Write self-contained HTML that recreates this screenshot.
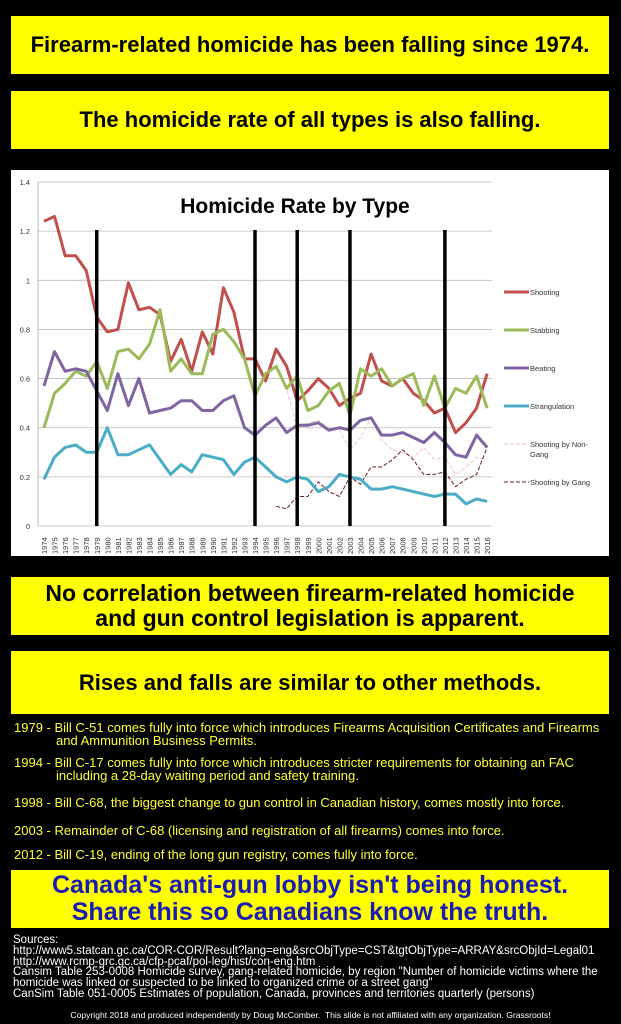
<!DOCTYPE html>
<html><head><meta charset="utf-8"><style>
body{margin:0;width:621px;height:1024px;background:#000;position:relative;overflow:hidden;font-family:"Liberation Sans",sans-serif}
.y{position:absolute;left:11px;width:598px;background:#ffff00;color:#000;font-weight:bold;text-align:center;display:flex;align-items:center;justify-content:center;box-sizing:border-box;white-space:nowrap}
.t{position:absolute;color:#ffff33;font-size:13px;white-space:nowrap;transform-origin:0 0;transform:scaleX(1.0)}
.s{position:absolute;color:#fff;font-size:11.5px;white-space:nowrap;transform-origin:0 0;transform:scaleX(1.0);line-height:10.8px}
</style></head><body>
<div class="y" style="top:16px;height:58px;font-size:22px">Firearm-related homicide has been falling since 1974.</div>
<div class="y" style="top:91px;height:58px;font-size:22px">The homicide rate of all types is also falling.</div>
<svg id="ch" style="position:absolute;left:11px;top:170px" width="598" height="386"></svg>
<div class="y" style="top:577px;height:58px;font-size:23px;line-height:25px">No correlation between firearm-related homicide<br>and gun control legislation is apparent.</div>
<div class="y" style="top:651px;height:63px;font-size:22px">Rises and falls are similar to other methods.</div>
<div class="t" style="top:720px;left:14px">1979 - Bill C-51 comes fully into force which introduces Firearms Acquisition Certificates and Firearms</div>
<div class="t" style="top:733px;left:56px">and Ammunition Business Permits.</div>
<div class="t" style="top:755px;left:14px">1994 - Bill C-17 comes fully into force which introduces stricter requirements for obtaining an FAC</div>
<div class="t" style="top:768px;left:56px">including a 28-day waiting period and safety training.</div>
<div class="t" style="top:795px;left:14px">1998 - Bill C-68, the biggest change to gun control in Canadian history, comes mostly into force.</div>
<div class="t" style="top:823px;left:14px">2003 - Remainder of C-68 (licensing and registration of all firearms) comes into force.</div>
<div class="t" style="top:847px;left:14px">2012 - Bill C-19, ending of the long gun registry, comes fully into force.</div>
<div class="y" style="top:870px;height:58px;font-size:25px;color:#1a1ab4;line-height:27px">Canada's anti-gun lobby isn't being honest.<br>Share this so Canadians know the truth.</div>
<div class="s" style="top:935px;left:13px">Sources:<br>http://www5.statcan.gc.ca/COR-COR/Result?lang=eng&amp;srcObjType=CST&amp;tgtObjType=ARRAY&amp;srcObjId=Legal01<br>http://www.rcmp-grc.gc.ca/cfp-pcaf/pol-leg/hist/con-eng.htm<br>Cansim Table 253-0008 Homicide survey, gang-related homicide, by region "Number of homicide victims where the<br>homicide was linked or suspected to be linked to organized crime or a street gang"<br>CanSim Table 051-0005 Estimates of population, Canada, provinces and territories quarterly (persons)</div>
<div style="position:absolute;top:1010px;left:0;width:621px;text-align:center;color:#fff;font-size:8.6px">Copyright 2018 and produced independently by Doug McComber.&nbsp; This slide is not affiliated with any organization. Grassroots!</div>
<script>
var s='<rect x="0" y="0" width="598" height="386" fill="#fff"/>';
var ox=11,oy=170;
function X(i){return 44+i*10.55-ox}
function Y(v){return 526-v/0.2*49.14-oy}
for(var k=0;k<=7;k++){var yy=Y(k*0.2);s+='<line x1="'+(38-ox)+'" x2="'+(492-ox)+'" y1="'+yy+'" y2="'+yy+'" stroke="#bbb" stroke-width="0.8"/>';
s+='<text x="'+(30-ox)+'" y="'+(yy+3)+'" font-size="7.5" text-anchor="end" fill="#333">'+(k==0?'0':(k*0.2).toFixed(1).replace(/\.0$/,''))+'</text>';}
s+='<line x1="'+(38-ox)+'" x2="'+(38-ox)+'" y1="'+Y(1.4)+'" y2="'+Y(0)+'" stroke="#bbb"/>';
for(var i=0;i<43;i++){var x=X(i);s+='<text transform="translate('+(x+3)+','+(Y(0)+28)+') rotate(-90)" font-size="7.5" fill="#333">'+(1974+i)+'</text>';}
s+='<text x="'+(295-ox)+'" y="'+(213-oy)+'" font-size="21" font-weight="bold" text-anchor="middle" fill="#000">Homicide Rate by Type</text>';
var D={
sh:[1.24,1.26,1.10,1.10,1.04,0.85,0.79,0.80,0.99,0.88,0.89,0.86,0.67,0.76,0.63,0.79,0.70,0.97,0.87,0.68,0.68,0.59,0.72,0.65,0.51,0.55,0.60,0.56,0.49,0.52,0.54,0.70,0.59,0.57,0.60,0.54,0.51,0.46,0.48,0.38,0.42,0.48,0.62],
st:[0.40,0.54,0.58,0.63,0.61,0.67,0.56,0.71,0.72,0.68,0.74,0.88,0.63,0.68,0.62,0.62,0.78,0.80,0.75,0.68,0.53,0.62,0.65,0.56,0.61,0.47,0.49,0.55,0.58,0.45,0.64,0.61,0.64,0.57,0.60,0.62,0.49,0.61,0.48,0.56,0.54,0.61,0.48],
be:[0.57,0.71,0.63,0.64,0.63,0.55,0.47,0.62,0.49,0.60,0.46,0.47,0.48,0.51,0.51,0.47,0.47,0.51,0.53,0.40,0.37,0.41,0.44,0.38,0.41,0.41,0.42,0.39,0.40,0.39,0.43,0.44,0.37,0.37,0.38,0.36,0.34,0.38,0.34,0.29,0.28,0.37,0.32],
str:[0.19,0.28,0.32,0.33,0.30,0.30,0.40,0.29,0.29,0.31,0.33,0.27,0.21,0.25,0.22,0.29,0.28,0.27,0.21,0.26,0.28,0.24,0.20,0.18,0.20,0.19,0.14,0.16,0.21,0.20,0.19,0.15,0.15,0.16,0.15,0.14,0.13,0.12,0.13,0.13,0.09,0.11,0.10]};
var ng=[0.64,0.56,0.40,0.42,0.43,0.40,0.39,0.31,0.36,0.44,0.35,0.31,0.30,0.28,0.32,0.27,0.28,0.21,0.24,0.28,0.27];
var g=[0.08,0.07,0.12,0.12,0.18,0.14,0.12,0.20,0.17,0.24,0.24,0.27,0.31,0.27,0.21,0.21,0.22,0.16,0.19,0.21,0.32];
function pl(a,off,c,w,da){var p=a.map(function(v,i){return X(i+off).toFixed(1)+','+Y(v).toFixed(1)}).join(' ');
return '<polyline points="'+p+'" fill="none" stroke="'+c+'" stroke-width="'+w+'" stroke-linejoin="round"'+(da?' stroke-dasharray="'+da+'"':'')+'/>';}
s+=pl(ng,22,'#f2c4c0',1,'4,2');
s+=pl(g,22,'#6b1c1c',1,'4,2');
s+=pl(D.sh,0,'#c0504d',3);
s+=pl(D.st,0,'#9bbb59',3);
s+=pl(D.be,0,'#8064a2',3);
s+=pl(D.str,0,'#4bacc6',3);
[5,20,24,29,38].forEach(function(i){var x=X(i);s+='<line x1="'+x+'" x2="'+x+'" y1="'+(230-oy)+'" y2="'+Y(0)+'" stroke="#000" stroke-width="3.5"/>';});
var L=[['Shooting','#c0504d',3,292],['Stabbing','#9bbb59',3,330],['Beating','#8064a2',3,368],['Strangulation','#4bacc6',3,406]];
L.forEach(function(l){s+='<line x1="'+(504-ox)+'" x2="'+(529-ox)+'" y1="'+(l[3]-oy)+'" y2="'+(l[3]-oy)+'" stroke="'+l[1]+'" stroke-width="3"/><text x="'+(530-ox)+'" y="'+(l[3]-oy+3)+'" font-size="7.5" fill="#333">'+l[0]+'</text>';});
s+='<line x1="'+(504-ox)+'" x2="'+(529-ox)+'" y1="'+(444-oy)+'" y2="'+(444-oy)+'" stroke="#f2c4c0" stroke-dasharray="4,2"/><text x="'+(530-ox)+'" y="'+(447-oy)+'" font-size="7.5" fill="#333">Shooting by Non-</text><text x="'+(530-ox)+'" y="'+(457-oy)+'" font-size="7.5" fill="#333">Gang</text>';
s+='<line x1="'+(504-ox)+'" x2="'+(529-ox)+'" y1="'+(482-oy)+'" y2="'+(482-oy)+'" stroke="#6b1c1c" stroke-dasharray="4,2"/><text x="'+(530-ox)+'" y="'+(485-oy)+'" font-size="7.5" fill="#333">Shooting by Gang</text>';
document.getElementById('ch').innerHTML=s;
</script>
</body></html>
